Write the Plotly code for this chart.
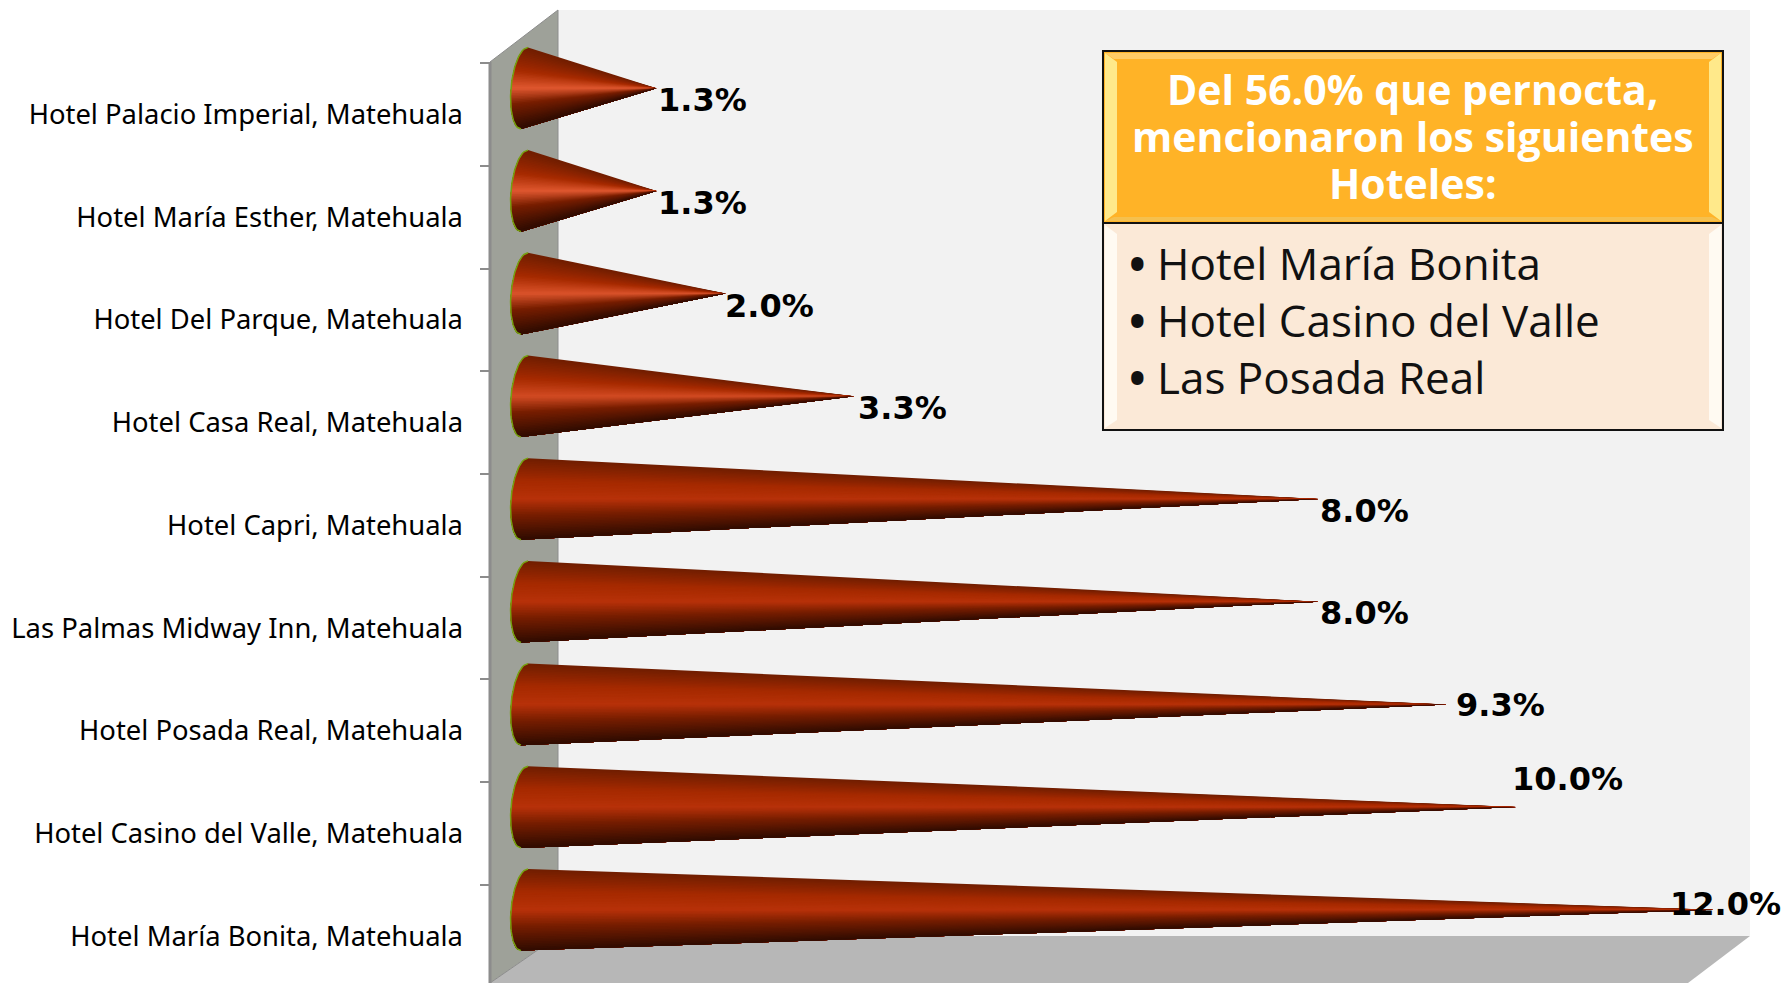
import plotly.graph_objects as go

W, H = 1781, 983

hotels = ["Hotel Palacio Imperial, Matehuala", "Hotel María Esther, Matehuala",
          "Hotel Del Parque, Matehuala", "Hotel Casa Real, Matehuala",
          "Hotel Capri, Matehuala", "Las Palmas Midway Inn, Matehuala",
          "Hotel Posada Real, Matehuala", "Hotel Casino del Valle, Matehuala",
          "Hotel María Bonita, Matehuala"]
values = [1.3, 1.3, 2.0, 3.3, 8.0, 8.0, 9.3, 10.0, 12.0]
label_shift_x = [0, 0, -3, 2, 0, 0, 7, -6, -46]
label_shift_y = [15, 14, 14, 15, 14, 15, 26, 54, 32]
header_lines = ["Del 56.0% que pernocta,", "mencionaron los siguientes", "Hoteles:"]
bullet_lines = ["Hotel María Bonita", "Hotel Casino del Valle", "Las Posada Real"]


def px(x): return x / W
def py(y): return 1 - y / H


# axis calibration
X0, PX_PER_UNIT = 528, 98.8
CAT0, PX_PER_CAT = 114.5, 102.7
x_range = [(490 - X0) / PX_PER_UNIT, (W - X0) / PX_PER_UNIT]
y_range = [(H - CAT0) / PX_PER_CAT, (0 - CAT0) / PX_PER_CAT]

fig = go.Figure()


def lerp(a, b, f):
    return tuple(a[i] + (b[i] - a[i]) * f for i in range(3))


def shade(t, value):
    # t -1 (top) .. 1 (bottom)
    top = (112, 30, 0)
    mid = (166, 42, 0)
    f = max(0.0, min(1.0, (value - 1.3) / 6))
    hi = lerp((224, 88, 48), (184, 50, 10), f)
    low = (120, 30, 0)
    bot = (48, 12, 0)
    if t < -0.45:
        c = lerp(top, mid, (t + 1) / 0.55)
    elif t < 0:
        c = lerp(mid, hi, (t + 0.45) / 0.45)
    elif t < 0.4:
        c = lerp(hi, low, t / 0.4)
    else:
        c = lerp(low, bot, (t - 0.4) / 0.6)
    return "rgb(%d,%d,%d)" % c


# invisible category carrier so the labels come from the category axis
fig.add_trace(go.Bar(x=values, y=hotels, orientation="h", marker_opacity=0,
                     hoverinfo="skip", showlegend=False, xaxis="x", yaxis="y"))

N = 48
HALF = 40.8 / PX_PER_CAT
BULGE = 13.5 / PX_PER_UNIT
SKEW = 3.5 / PX_PER_UNIT
for i, v in enumerate(values):
    yc = i - 0.2563
    ts = [-1 + 2 * k / N for k in range(N + 1)]
    bx = [-SKEW - SKEW * t - BULGE * max(0, 1 - t * t) ** 0.5 for t in ts]
    by = [yc + HALF * t for t in ts]
    for k in range(N):
        col = shade((ts[k] + ts[k + 1]) / 2, v)
        # painter's fan: each wedge runs to the cone's lower edge, the next one covers it
        fig.add_trace(go.Scatter(
            x=bx[k:] + [v, bx[k]], y=by[k:] + [yc, by[k]],
            mode="lines", fill="toself", fillcolor=col,
            line=dict(color=col, width=0), hoverinfo="skip", showlegend=False,
            xaxis="x", yaxis="y2"))
    fig.add_trace(go.Scatter(x=bx, y=by, mode="lines",
                             line=dict(color="#76A010", width=1.5),
                             hoverinfo="skip", showlegend=False, xaxis="x", yaxis="y2"))

annotations = []
for name, v, dx, dy in zip(hotels, values, label_shift_x, label_shift_y):
    annotations.append(dict(x=v, y=name, xref="x", yref="y", text=f"<b>{v:.1f}%</b>",
                            showarrow=False, xanchor="left", yanchor="middle",
                            xshift=dx, yshift=dy,
                            font=dict(family="DejaVu Sans", size=32, color="#000000")))

for line, y in zip(header_lines, [89, 136, 183]):
    annotations.append(dict(x=px(1413), y=py(y), xref="paper", yref="paper",
                            text=f"<b>{line}</b>", showarrow=False, xanchor="center",
                            yanchor="middle",
                            font=dict(family="Open Sans", size=41, color="#FFFFFF")))
annotations.append(dict(x=px(1127), y=py(320), xref="paper", yref="paper",
                        text="<br>".join(f"<b>•</b> {line}" for line in bullet_lines),
                        showarrow=False, xanchor="left", yanchor="middle", align="left",
                        font=dict(family="Open Sans", size=44, color="#111111")))


def poly(points, fill, line=None, width=0):
    path = "M " + " L ".join(f"{px(x):.5f},{py(y):.5f}" for x, y in points) + " Z"
    return dict(type="path", path=path, xref="paper", yref="paper", fillcolor=fill,
                layer="below", line=dict(color=line or fill, width=width))


shapes = [
    poly([(558, 10), (1750, 10), (1750, 936), (558, 936)], "#F2F2F2"),
    poly([(558, 936), (1750, 936), (1688, 983), (490, 983)], "#B7B7B7"),
    poly([(490, 62), (558, 10), (558, 936), (490, 983)], "#9EA199", "#8C8C8C", 1),
    dict(type="line", xref="paper", yref="paper", x0=px(490), x1=px(490), y0=py(62), y1=py(983),
         layer="below", line=dict(color="#8C8C8C", width=3)),
]
box = [
    poly([(1103, 51), (1723, 51), (1723, 223), (1103, 223)], "#FFB327", "#111111", 2),
    poly([(1103, 223), (1723, 223), (1723, 430), (1103, 430)], "#FBE9D7", "#111111", 2),
    poly([(1105, 53), (1721, 53), (1712, 59), (1114, 59)], "#FFCB66"),
    poly([(1105, 221), (1721, 221), (1712, 217), (1114, 217)], "#F5C04E"),
    poly([(1105, 53), (1117, 62), (1117, 212), (1105, 221)], "#FFE98A"),
    poly([(1721, 53), (1709, 62), (1709, 212), (1721, 221)], "#FFE98A"),
    poly([(1105, 225), (1117, 234), (1117, 420), (1105, 428)], "#FFFAF2"),
    poly([(1721, 225), (1709, 234), (1709, 420), (1721, 428)], "#FFFAF2"),
]
for s in box:
    s["layer"] = "above"
shapes += box

fig.update_layout(
    width=W, height=H, margin=dict(l=0, r=0, t=0, b=0),
    paper_bgcolor="#FFFFFF", plot_bgcolor="rgba(0,0,0,0)", showlegend=False,
    shapes=shapes, annotations=annotations,
    xaxis=dict(domain=[px(490), 1], range=x_range, visible=False, fixedrange=True),
    yaxis=dict(type="category", categoryorder="array", categoryarray=hotels,
               domain=[0, 1], range=y_range, tickson="boundaries", ticks="outside",
               ticklen=9, tickwidth=1.5, tickcolor="#8C8C8C", showgrid=False,
               showline=False, zeroline=False,
               tickfont=dict(family="Noto Sans", size=27.4, color="#000000"),
               ticklabelstandoff=26, fixedrange=True),
    yaxis2=dict(overlaying="y", range=y_range, visible=False, fixedrange=True),
)

fig.write_html("out.html", config={"displayModeBar": False},
               post_script="document.body.style.margin='0';document.body.style.overflow='hidden';")
